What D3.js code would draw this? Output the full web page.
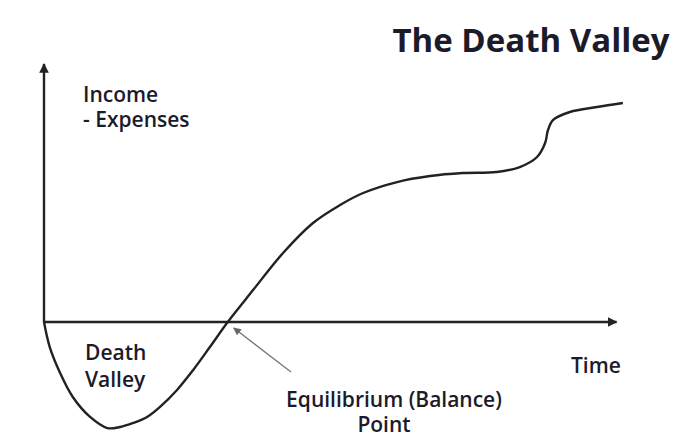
<!DOCTYPE html>
<html>
<head>
<meta charset="utf-8">
<script src="https://cdn.jsdelivr.net/npm/d3@7"></script>
<style>
  body { margin: 0; background: #fff; }
  text { font-family: "Open Sans", Lato, sans-serif; fill: #1b1b2a; }
</style>
</head>
<body>
<svg id="chart" width="676" height="433"></svg>
<script>
'use strict'

// curve (time 0..100, income - expenses)
var curveTime  = [0, 1.0, 2.8, 5.0, 8.0, 11.0, 13.2, 15.5, 17.9, 20.1, 23.1, 25.9, 28.8, 31.9, 36.3, 41.5, 46.7, 51.4, 55.4, 61.3, 67.0, 72.7, 78.6, 82.6, 85.6, 87.0, 87.5, 88.4, 91.3, 96.0, 100.5]
var curveValue = [0, -16.7, -34, -50, -63.3, -70.7, -70, -67.3, -63.3, -56.7, -45.3, -32, -16.7, 0, 21.3, 46, 66, 78, 86, 93.3, 97.3, 99.3, 100, 103.3, 110, 119.3, 128, 134.7, 140, 143.3, 146]

var equilibriumTime = 31.9
var xAxisEnd = 99.4
var yAxisEnd = 172

var svg = d3.select("#chart")

var x = d3.scaleLinear().domain([0, 100]).range([44, 620])
var y = d3.scaleLinear().domain([-70, 170]).range([427, 67])

var defs = svg.append("defs")
defs.append("marker")
    .attr("id", "head")
    .attr("viewBox", "0 0 10 10")
    .attr("refX", 9).attr("refY", 5)
    .attr("markerWidth", 4).attr("markerHeight", 4)
    .attr("markerUnits", "strokeWidth")
    .attr("orient", "auto")
  .append("path")
    .attr("d", "M0,0 L10,5 L0,10 z")
    .attr("fill", "#222")
defs.append("marker")
    .attr("id", "thinhead")
    .attr("viewBox", "0 0 10 10")
    .attr("refX", 9).attr("refY", 5)
    .attr("markerWidth", 7).attr("markerHeight", 6)
    .attr("markerUnits", "strokeWidth")
    .attr("orient", "auto")
  .append("path")
    .attr("d", "M0,0 L10,5 L0,10 z")
    .attr("fill", "#666")

// axes
svg.append("line")
    .attr("x1", x(0)).attr("y1", y(0))
    .attr("x2", x(xAxisEnd)).attr("y2", y(0))
    .attr("stroke", "#222").attr("stroke-width", 2.4)
    .attr("marker-end", "url(#head)")
svg.append("line")
    .attr("x1", x(0)).attr("y1", y(0))
    .attr("x2", x(0)).attr("y2", y(yAxisEnd))
    .attr("stroke", "#222").attr("stroke-width", 2.4)
    .attr("marker-end", "url(#head)")

// curve
var line = d3.line()
    .x((d, i) => x(curveTime[i]))
    .y(d => y(d))
    .curve(d3.curveCatmullRom.alpha(0.5))

svg.append("path")
    .datum(curveValue)
    .attr("d", line)
    .attr("fill", "none")
    .attr("stroke", "#222")
    .attr("stroke-width", 2.4)

// pointer to equilibrium
svg.append("line")
    .attr("x1", 291).attr("y1", 372)
    .attr("x2", x(equilibriumTime) + 6).attr("y2", y(0) + 6)
    .attr("stroke", "#777").attr("stroke-width", 1.3)
    .attr("marker-end", "url(#thinhead)")

// labels
svg.append("text")
    .attr("x", 531).attr("y", 52)
    .attr("text-anchor", "middle")
    .attr("font-size", 33).attr("font-weight", 700)
    .text("The Death Valley")

var fs = 21
svg.append("text").attr("x", 83).attr("y", 102).attr("font-size", fs).attr("font-weight", 600).text("Income")
svg.append("text").attr("x", 83).attr("y", 127).attr("font-size", fs).attr("font-weight", 600).text("- Expenses")

svg.append("text").attr("x", 85).attr("y", 360).attr("font-size", fs).attr("font-weight", 600).text("Death")
svg.append("text").attr("x", 85).attr("y", 387).attr("font-size", fs).attr("font-weight", 600).text("Valley")

svg.append("text").attr("x", 571).attr("y", 373).attr("font-size", fs).attr("font-weight", 600).text("Time")

svg.append("text").attr("x", 394).attr("y", 407).attr("text-anchor", "middle")
    .attr("font-size", fs).attr("font-weight", 600).text("Equilibrium (Balance)")
svg.append("text").attr("x", 384).attr("y", 432).attr("text-anchor", "middle")
    .attr("font-size", fs).attr("font-weight", 600).text("Point")
</script>
</body>
</html>
